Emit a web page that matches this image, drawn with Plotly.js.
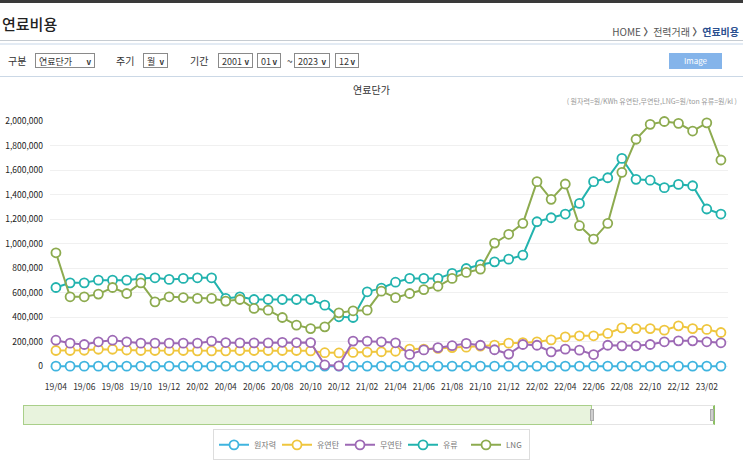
<!DOCTYPE html>
<html>
<head>
<meta charset="utf-8">
<script src="https://cdn.plot.ly/plotly-3.0.1.min.js"></script>
<style>
  html, body { margin:0; padding:0; background:#fff; width:743px; height:461px; overflow:hidden;
    font-family:"Noto Sans CJK KR","Noto Sans",sans-serif; }
  #chart { position:absolute; left:0; top:0; width:743px; height:461px; z-index:0; }
  .ov { position:absolute; z-index:10; white-space:nowrap; }
  .lbl { font-size:10px; color:#333; line-height:16px; }
  .sel { font-size:9px; color:#333; border:1px solid #8a8a8a; height:15px; line-height:15px;
    padding-left:3px; box-sizing:border-box; background:#fff; }
  .sel b { position:absolute; right:3px; top:0; font-size:8px; font-weight:bold; }
</style>
</head>
<body>
<div id="chart"></div>

<div class="ov" style="left:0;top:0;width:743px;height:3px;background:#3a3a3a;"></div>
<div class="ov" style="left:2px;top:13px;font-size:15px;font-weight:500;color:#222;">연료비용</div>
<div class="ov" style="right:4px;top:24px;font-size:10px;color:#555;">HOME <b>〉</b>전력거래 <b>〉</b><span style="color:#2b4f8f;font-weight:bold;">연료비용</span></div>
<div class="ov" style="left:0;top:40px;width:743px;height:1px;background:#c6ccd2;"></div>
<div class="ov" style="left:0;top:43px;width:743px;height:2px;background:#e3ebf4;"></div>
<div class="ov" style="left:0;top:76px;width:743px;height:1px;background:#cbd8e6;"></div>

<div class="ov lbl" style="left:8px;top:53px;">구분</div>
<div class="ov sel" style="left:35px;top:53px;width:60px;">연료단가<b>v</b></div>
<div class="ov lbl" style="left:116px;top:53px;">주기</div>
<div class="ov sel" style="left:143px;top:53px;width:25px;">월<b>v</b></div>
<div class="ov lbl" style="left:190px;top:53px;">기간</div>
<div class="ov sel" style="left:218px;top:53px;width:35px;">2001<b>v</b></div>
<div class="ov sel" style="left:257px;top:53px;width:24px;">01<b>v</b></div>
<div class="ov lbl" style="left:287px;top:53px;">~</div>
<div class="ov sel" style="left:294px;top:53px;width:36px;">2023<b>v</b></div>
<div class="ov sel" style="left:335px;top:53px;width:24px;">12<b>v</b></div>
<div class="ov" style="left:669px;top:53px;width:53px;height:16px;background:#84b4ea;color:#fff;font-size:8px;line-height:16px;text-align:center;">Image</div>

<div class="ov" style="left:0;top:82px;width:743px;text-align:center;font-size:10px;color:#333;">연료단가</div>
<div class="ov" style="right:6px;top:96px;font-size:7px;color:#999;">( 원자력=원/KWh 유연탄,무연탄,LNG=원/ton 유류=원/kl )</div>

<div class="ov" style="left:23px;top:405px;width:569px;height:20px;box-sizing:border-box;background:#e8f3dd;border:1px solid #a9cf89;"></div>
<div class="ov" style="left:592px;top:405px;width:123px;height:20px;box-sizing:border-box;background:#fff;border-top:1px solid #e4e4e4;border-bottom:1px solid #e4e4e4;border-right:2px solid #8cc063;"></div>
<div class="ov" style="left:590px;top:409px;width:4px;height:12px;background:#cfcfcf;border:1px solid #aaa;box-sizing:border-box;"></div>
<div class="ov" style="left:710px;top:409px;width:4px;height:12px;background:#cfcfcf;border:1px solid #aaa;box-sizing:border-box;"></div>

<script>
const months = ['19/04','19/05','19/06','19/07','19/08','19/09','19/10','19/11','19/12',
  '20/01','20/02','20/03','20/04','20/05','20/06','20/07','20/08','20/09','20/10','20/11','20/12',
  '21/01','21/02','21/03','21/04','21/05','21/06','21/07','21/08','21/09','21/10','21/11','21/12',
  '22/01','22/02','22/03','22/04','22/05','22/06','22/07','22/08','22/09','22/10','22/11','22/12',
  '23/01','23/02','23/03'];

const nuclear = [58,57,58,59,58,57,58,59,60,60,59,58,57,58,59,58,59,60,58,57,58,
  59,60,58,57,58,59,60,61,60,59,58,57,60,61,62,61,60,59,60,61,62,61,60,59,60,61,60];

const bituminous = [128000,128000,130000,138000,138000,132000,128000,128000,128000,128000,125000,125000,
  125000,128000,128000,128000,128000,128000,125000,110000,108000,112000,115000,118000,
  122000,140000,140000,145000,152000,155000,163000,172000,188000,192000,198000,215000,
  239000,248000,248000,267000,313000,307000,307000,294000,329000,307000,300000,275000];

const anthracite = [212000,188000,177000,199000,212000,199000,188000,188000,188000,188000,188000,204000,
  193000,190000,190000,190000,195000,193000,193000,10000,3000,205000,204000,199000,
  191000,96000,133000,152000,167000,186000,171000,134000,99000,177000,171000,117000,
  139000,131000,95000,171000,166000,166000,177000,199000,207000,207000,199000,191000];

const oil = [642000,680000,680000,702000,702000,702000,716000,721000,708000,716000,721000,721000,
  553000,566000,544000,544000,544000,544000,544000,498000,403000,397000,607000,637000,
  685000,716000,716000,716000,757000,797000,828000,851000,873000,906000,1178000,1211000,
  1241000,1328000,1505000,1537000,1695000,1524000,1517000,1456000,1483000,1472000,1282000,1241000];

const lng = [925000,566000,566000,588000,642000,593000,680000,525000,566000,560000,553000,553000,
  531000,544000,471000,457000,397000,335000,307000,321000,435000,452000,457000,612000,
  559000,593000,625000,652000,716000,765000,792000,1004000,1076000,1165000,1505000,1361000,
  1486000,1146000,1037000,1165000,1581000,1851000,1973000,1996000,1981000,1918000,1985000,1682000];

const seriesNames = ['원자력','유연탄','무연탄','유류','LNG'];
const seriesColors = ['#3fb4df','#efc63e','#9d69b5','#22b3ae','#8dab4f'];
const seriesData = [nuclear, bituminous, anthracite, oil, lng];

const tickLabels = months.filter((m, i) => i % 2 === 0 && i < 47);

const traces = seriesData.map((vals, k) => ({
  type: 'scatter', mode: 'lines+markers', name: seriesNames[k],
  x: months, y: vals,
  line: {color: seriesColors[k], width: 2},
  marker: {symbol: 'circle', size: 9, color: '#fff', line: {color: seriesColors[k], width: 1.8}},
  cliponaxis: false
}));

const layout = {
  width: 743, height: 461,
  margin: {l: 50, r: 15, t: 121, b: 85, autoexpand: false},
  paper_bgcolor: 'rgba(0,0,0,0)', plot_bgcolor: '#fff',
  font: {family: '"Noto Sans CJK KR","Noto Sans",sans-serif', color: '#333'},
  showlegend: true,
  legend: {orientation: 'h', x: 0.5, xanchor: 'center', xref: 'container', yref: 'container',
    y: 0.035, yanchor: 'middle',
    font: {size: 8, color: '#777'}, bordercolor: '#dddddd', borderwidth: 1, bgcolor: '#fff',
    itemwidth: 30, entrywidth: 18, entrywidthmode: 'pixels', traceorder: 'normal'},
  xaxis: {type: 'category', range: [-0.42, 47.5], showgrid: false, zeroline: false, showline: false,
    tickmode: 'array', tickvals: tickLabels, ticktext: tickLabels, ticks: '', automargin: false,
    tickfont: {size: 8.5, color: '#333'}, ticklabelstandoff: 4, fixedrange: true},
  yaxis: {range: [-80000, 2000000], tickmode: 'linear', tick0: 0, dtick: 200000, tickformat: ',d',
    showgrid: true, gridcolor: '#f0f0f0', gridwidth: 1, zeroline: false, showline: false, ticks: '',
    automargin: false, tickfont: {size: 8.5, color: '#222'}, ticklabelstandoff: 6, fixedrange: true}
};

Plotly.newPlot('chart', traces, layout, {staticPlot: true, displayModeBar: false});
</script>
</body>
</html>
